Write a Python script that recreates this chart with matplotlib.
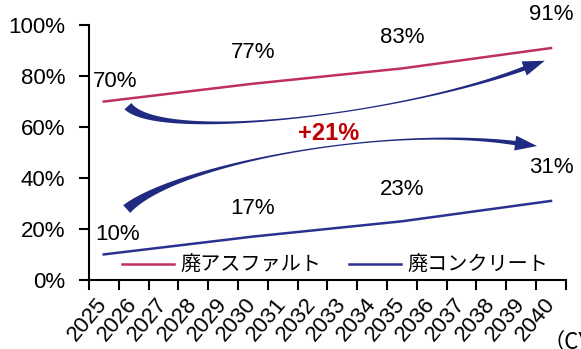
import numpy as np
import matplotlib
matplotlib.use("Agg")
import matplotlib.pyplot as plt
from matplotlib.patches import Polygon

plt.rcParams['font.family'] = ['Liberation Sans', 'DejaVu Sans']

###### Data ####################################################################
years = [str(y) for y in range(2025, 2041)]
asphalt = [0.70, 0.714, 0.728, 0.742, 0.756, 0.77, 0.782, 0.794, 0.806, 0.818,
           0.83, 0.846, 0.862, 0.878, 0.894, 0.91]
concrete = [0.10, 0.114, 0.128, 0.142, 0.156, 0.17, 0.182, 0.194, 0.206, 0.218,
            0.23, 0.246, 0.262, 0.278, 0.294, 0.31]
label_idx = [0, 5, 10, 15]
series_names = ['廃アスファルト', '廃コンクリート']
yticks = [0, 0.2, 0.4, 0.6, 0.8, 1.0]
ytick_labels = ['0%', '20%', '40%', '60%', '80%', '100%']
diff_label = '+21%'
unit_label = '（CY）'

###### Style ###################################################################
c_asp = '#C0305F'
c_con = '#2B3192'
c_arrow = '#1F2A80'
cjk = ['Noto Sans CJK JP', 'DejaVu Sans']

fig = plt.figure(figsize=(5.81, 3.49), dpi=100)
ax = fig.add_axes([0.153, 0.198, 0.821, 0.730])

x = np.arange(len(years))
ax.plot(x, asphalt, color=c_asp, lw=1.8, label=series_names[0])
ax.plot(x, concrete, color=c_con, lw=1.8, label=series_names[1])

ax.set_xlim(-0.5, len(years) - 0.5)
ax.set_ylim(0, 1.0)

# ticks at the category boundaries, labels at the centers
ax.set_xticks(np.arange(len(years) + 1) - 0.5)
ax.set_xticklabels([])
ax.set_xticks(x, minor=True)
ax.set_xticklabels(years, minor=True, rotation=50, ha='right', va='center',
                   rotation_mode='anchor', fontsize=16)
ax.tick_params(axis='x', which='minor', length=0, pad=15)
ax.tick_params(axis='x', which='major', length=7, width=1.5, direction='out')
ax.set_yticks(yticks)
ax.set_yticklabels(ytick_labels, fontsize=16)
ax.tick_params(axis='y', length=7, width=1.5, direction='out', pad=10)

for s in ['top', 'right']:
    ax.spines[s].set_visible(False)
for s in ['left', 'bottom']:
    ax.spines[s].set_linewidth(1.5)

# value labels
asp_off = [(0.37, 0.077), (0, 0.124), (0, 0.123), (0, 0.13)]
con_off = [(0.47, 0.078), (0, 0.112), (0, 0.123), (0, 0.13)]
for k, i in enumerate(label_idx):
    ax.text(i + asp_off[k][0], asphalt[i] + asp_off[k][1], '%d%%' % round(asphalt[i] * 100),
            ha='center', va='center', fontsize=16)
    ax.text(i + con_off[k][0], concrete[i] + con_off[k][1], '%d%%' % round(concrete[i] * 100),
            ha='center', va='center', fontsize=16)

ax.text(7.55, 0.576, diff_label, color='#C00000', fontweight='bold', fontsize=17,
        ha='center', va='center')

leg = ax.legend(loc='center', bbox_to_anchor=(0.516, 0.057), ncol=2, frameon=False,
                prop={'family': cjk, 'size': 14.5}, handlelength=2.6, handletextpad=0.3,
                columnspacing=1.4, borderaxespad=0)

fig.text(543 / 581, 1 - 342 / 349, unit_label, family=cjk, fontsize=16, ha='left', va='center')


###### Tapered curved arrows ###################################################
def tapered_arrow(pts, w_tail, w_mid, w_end, head_len, head_w):
    # pts: 4 bezier control points in data coordinates
    P = ax.transData.transform(np.array(pts))
    t = np.linspace(0, 1, 200)[:, None]
    c = ((1 - t)**3 * P[0] + 3 * (1 - t)**2 * t * P[1]
         + 3 * (1 - t) * t**2 * P[2] + t**3 * P[3])
    d = (-3 * (1 - t)**2 * P[0] + 3 * ((1 - t)**2 - 2 * t * (1 - t)) * P[1]
         + 3 * (2 * t * (1 - t) - t**2) * P[2] + 3 * t**2 * P[3])
    d = d / np.linalg.norm(d, axis=1)[:, None]
    n = np.column_stack([-d[:, 1], d[:, 0]])
    tt = t[:, 0]
    w = w_tail * (1 - tt)**4 + w_end * tt**6 + w_mid
    left = c + n * w[:, None] / 2
    right = c - n * w[:, None] / 2
    end, de, ne = c[-1], d[-1], n[-1]
    tip = end + de * head_len
    head = [end + ne * head_w / 2, tip, end - ne * head_w / 2]
    poly = np.vstack([left, head, right[::-1]])
    poly = ax.transData.inverted().transform(poly)
    ax.add_patch(Polygon(poly, closed=True, facecolor=c_arrow, edgecolor='none',
                         clip_on=False, zorder=3))


arrow_up = [(0.81, 0.682), (1.9, 0.54), (9.9, 0.647), (14.1, 0.83)]
arrow_down = [(0.77, 0.278), (2.4, 0.451), (9.3, 0.608), (13.8, 0.537)]
tapered_arrow(arrow_up, 8.5, 0.9, 3.5, 22, 15)
tapered_arrow(arrow_down, 9.5, 0.9, 3.5, 22, 15)

fig.savefig('out.png', dpi=100)
